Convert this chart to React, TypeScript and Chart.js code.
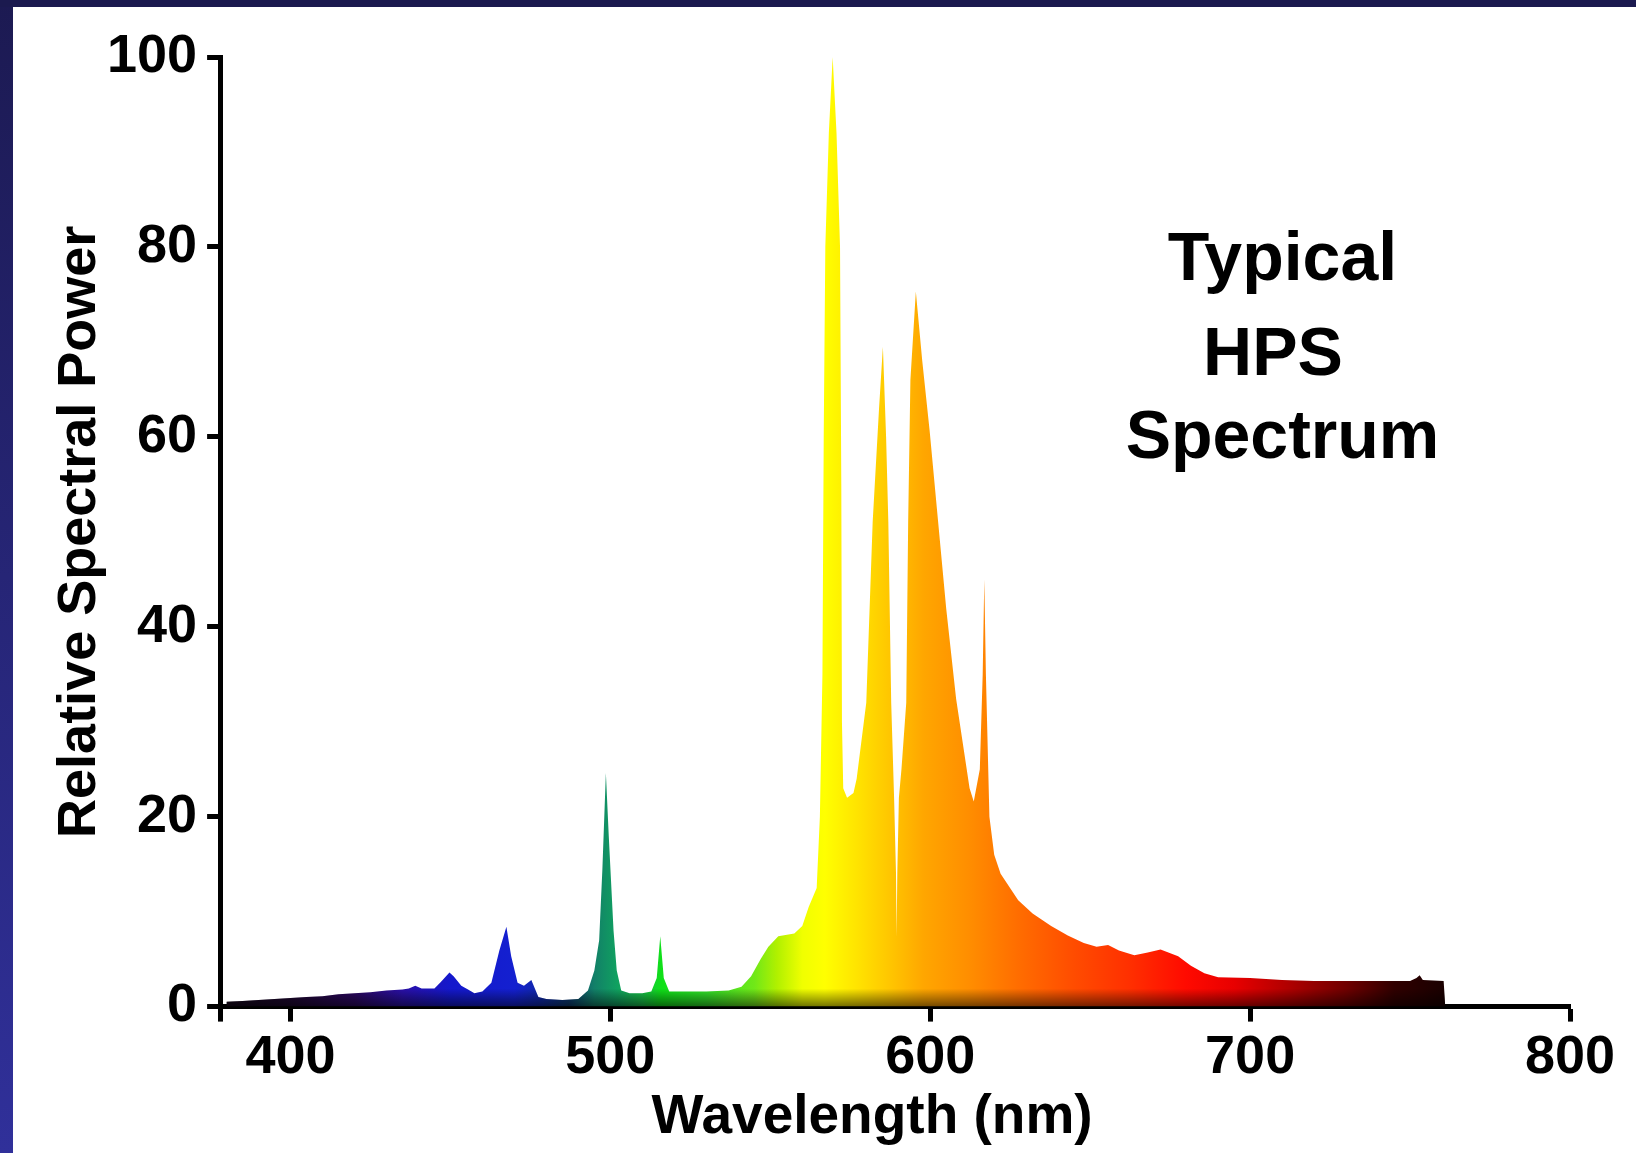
import React, { useEffect, useRef } from "react";
import { Chart, registerables } from "chart.js";

Chart.register(...registerables);

// ---- Data ----
const wavelengths = [
  380, 385, 390, 395, 400, 405, 410, 415, 420, 425, 430, 435, 437, 439, 441, 445, 447, 449.7, 451, 453.4,
  455.5, 457.5, 460, 462.8, 465.3, 467.5, 469, 471, 473, 475.3, 477.5, 480, 485, 490, 493, 495, 496.5, 497.5,
  498.6, 499.5, 501, 502, 503.4, 506, 510, 512.8, 514.5, 515.6, 516.7, 518.4, 522, 530, 537, 541, 544, 547,
  549.4, 552.5, 557.5, 560, 562, 564.5, 565.5, 566.3, 566.7, 567.2, 568.3, 569.5, 570.7, 571.8, 572.2, 572.4,
  572.8, 574, 576, 577, 580, 582, 584, 585.2, 586.2, 586.9, 587.8, 588.7, 589.3, 589.5, 589.7, 590.2, 591,
  592.5, 593.1, 593.8, 595.5, 597.5, 599.8, 602.4, 605, 608.1, 612.3, 613.6, 615.5, 616.4, 616.9, 617.4, 618.5,
  620, 622, 627.5, 632, 637.8, 643, 648, 652, 655.6, 659, 663.8, 668, 672, 677.5, 681.5, 685.7, 690, 700, 710,
  720, 730, 740, 750, 752, 753, 754, 760.5, 761,
];
const power = [
  0.5, 0.6, 0.7, 0.8, 0.9, 1.0, 1.1, 1.3, 1.4, 1.5, 1.7, 1.8, 1.9, 2.2, 1.9, 1.9, 2.6, 3.6, 3.2, 2.2,
  1.8, 1.4, 1.6, 2.5, 5.9, 8.4, 5.3, 2.5, 2.2, 2.8, 1.0, 0.8, 0.7, 0.8, 1.7, 3.8, 7, 14.4,
  24.6, 18, 8, 3.8, 1.7, 1.4, 1.4, 1.6, 3, 7.4, 3, 1.6, 1.6, 1.6, 1.7, 2.1, 3.2, 5,
  6.3, 7.4, 7.7, 8.5, 10.5, 12.5, 20, 35, 60, 80, 92, 100, 92, 80, 55, 30,
  23, 22, 22.5, 24, 32, 51, 63, 69.5, 60, 51, 32, 22, 14, 7.4, 14, 22, 25,
  32, 51, 66, 75.3, 68, 60.7, 51.3, 41.9, 32.4, 23, 21.6, 25, 35, 45, 35, 20,
  16, 14, 11.2, 9.8, 8.5, 7.5, 6.7, 6.3, 6.5, 5.9, 5.4, 5.7, 6.0, 5.3, 4.3, 3.5, 3.1, 3.0, 2.8,
  2.7, 2.7, 2.7, 2.7, 3.0, 3.3, 2.8, 2.7, 0,
];
const xMin = 378;
const xMax = 800;
const xTickValues = [400, 500, 600, 700, 800];
const yTickValues = [0, 20, 40, 60, 80, 100];
const xTitle = "Wavelength (nm)   ";
const yTitle = "Relative Spectral Power";
const annotationLines = ["Typical", "HPS ", "Spectrum"];

// gradient colour stops (wavelength -> colour)
const spectrumStopWavelengths = [
  378, 400, 420, 435, 450, 470, 478, 487, 495, 502, 510, 516, 530, 545, 552, 560, 567, 577, 588, 598, 612,
  628, 645, 662, 680, 695, 712, 730, 745, 762,
];
const spectrumStopColors = [
  "#140818", "#1e0830", "#2c0860", "#2a10a8", "#1418cc", "#1420d0", "#1028a8", "#0c3a70", "#128068",
  "#10a060", "#18c048", "#10e018", "#30e028", "#70e818", "#b0f000", "#f0ff00", "#ffff00", "#ffe400",
  "#ffc400", "#ffa600", "#ff8e00", "#ff6c00", "#ff4c00", "#ff3000", "#ff0a00", "#e80000", "#b00000",
  "#700000", "#300000", "#180000",
];

const FONT = '"Liberation Sans", Arial, Helvetica, sans-serif';

export default function App() {
  const canvasRef = useRef<HTMLCanvasElement | null>(null);

  useEffect(() => {
    const canvas = canvasRef.current;
    if (!canvas) return;

    const framePlugin = {
      id: "frame",
      beforeDraw(chart: any) {
        const { ctx, width, height } = chart;
        ctx.save();
        ctx.fillStyle = "#ffffff";
        ctx.fillRect(0, 0, width, height);
        const g = ctx.createLinearGradient(0, 0, 0, height);
        g.addColorStop(0, "#1c1a52");
        g.addColorStop(1, "#30309a");
        ctx.fillStyle = g;
        ctx.fillRect(0, 0, 13, height);
        ctx.fillStyle = "#1b1a4f";
        ctx.fillRect(0, 0, width, 7);
        ctx.restore();
      },
    };

    // darker band along the base of the filled spectrum
    const shadePlugin = {
      id: "baseShade",
      afterDatasetsDraw(chart: any) {
        const { ctx, chartArea: a, scales } = chart;
        const pts = chart.getDatasetMeta(0).data;
        if (!pts.length) return;
        const y0 = scales.y.getPixelForValue(0);
        ctx.save();
        ctx.beginPath();
        ctx.rect(a.left, a.top, a.width, a.height);
        ctx.clip();
        ctx.beginPath();
        ctx.moveTo(pts[0].x, y0);
        pts.forEach((p: any) => ctx.lineTo(p.x, p.y));
        ctx.lineTo(pts[pts.length - 1].x, y0);
        ctx.closePath();
        ctx.clip();
        const g = ctx.createLinearGradient(0, y0 - 18, 0, y0);
        g.addColorStop(0, "rgba(0,0,0,0)");
        g.addColorStop(1, "rgba(0,0,0,0.55)");
        ctx.fillStyle = g;
        ctx.fillRect(a.left, y0 - 18, a.width, 18);
        ctx.restore();
      },
    };

    const textPlugin = {
      id: "annotationText",
      afterDraw(chart: any) {
        const { ctx, chartArea: a } = chart;
        ctx.save();
        ctx.font = `bold 68px ${FONT}`;
        ctx.fillStyle = "#000";
        ctx.textAlign = "center";
        ctx.textBaseline = "alphabetic";
        const cx = a.left + a.width * 0.787;
        const rel = [0.2353, 0.3346, 0.4218];
        annotationLines.forEach((t, i) => {
          ctx.fillText(t, cx, a.top + a.height * rel[i]);
        });
        ctx.restore();
      },
    };

    const tickFont = { family: FONT, size: 54, weight: "bold" as const, lineHeight: 1.1 };
    const xTitleFont = { family: FONT, size: 55, weight: "bold" as const, lineHeight: 1.0 };
    const yTitleFont = { family: FONT, size: 54, weight: "bold" as const, lineHeight: 1.0 };

    const chart = new Chart(canvas, {
      type: "line",
      data: {
        datasets: [
          {
            data: wavelengths.map((x, i) => ({ x, y: power[i] })),
            borderWidth: 0,
            borderColor: "rgba(0,0,0,0)",
            pointRadius: 0,
            tension: 0,
            fill: "origin",
            backgroundColor: (context: any) => {
              const c = context.chart;
              const { ctx, chartArea, scales } = c;
              if (!chartArea) return "rgba(0,0,0,0)";
              const x0 = scales.x.getPixelForValue(xMin);
              const x1 = scales.x.getPixelForValue(xMax);
              const g = ctx.createLinearGradient(x0, 0, x1, 0);
              spectrumStopWavelengths.forEach((w, i) => {
                g.addColorStop((w - xMin) / (xMax - xMin), spectrumStopColors[i]);
              });
              return g;
            },
          },
        ],
      },
      options: {
        animation: false,
        responsive: false,
        maintainAspectRatio: false,
        layout: { padding: { left: 53, top: 57, right: 66, bottom: 8 } },
        plugins: {
          legend: { display: false },
          tooltip: { enabled: false },
        },
        scales: {
          x: {
            type: "linear",
            min: xMin,
            max: xMax,
            afterBuildTicks: (s: any) => {
              s.ticks = [xMin, ...xTickValues].map((v) => ({ value: v }));
            },
            ticks: {
              callback: (v: any) => (v === xMin ? "" : String(v)),
              color: "#000",
              font: tickFont,
              padding: 7,
              maxRotation: 0,
              autoSkip: false,
            },
            grid: {
              display: true,
              drawOnChartArea: false,
              drawTicks: true,
              tickLength: 15,
              tickWidth: 5,
              tickColor: "#000",
            },
            border: { display: true, width: 5, color: "#000" },
            title: {
              display: true,
              text: xTitle,
              color: "#000",
              font: xTitleFont,
              padding: { top: -5, bottom: 0 },
            },
          },
          y: {
            min: 0,
            max: 100,
            afterBuildTicks: (s: any) => {
              s.ticks = yTickValues.map((v) => ({ value: v }));
            },
            ticks: {
              color: "#000",
              font: tickFont,
              padding: 10,
            },
            grid: {
              display: true,
              drawOnChartArea: false,
              drawTicks: true,
              tickLength: 13,
              tickWidth: 5,
              tickColor: "#000",
            },
            border: { display: true, width: 5, color: "#000" },
            title: {
              display: true,
              text: yTitle,
              color: "#000",
              font: yTitleFont,
              padding: { top: 0, bottom: -10 },
            },
          },
        },
      },
      plugins: [framePlugin, shadePlugin, textPlugin],
    });

    return () => chart.destroy();
  }, []);

  return (
    <div style={{ position: "absolute", left: 0, top: 0, width: 1636, height: 1153, overflow: "hidden" }}>
      <canvas ref={canvasRef} width={1636} height={1153} style={{ display: "block", width: 1636, height: 1153 }} />
    </div>
  );
}
